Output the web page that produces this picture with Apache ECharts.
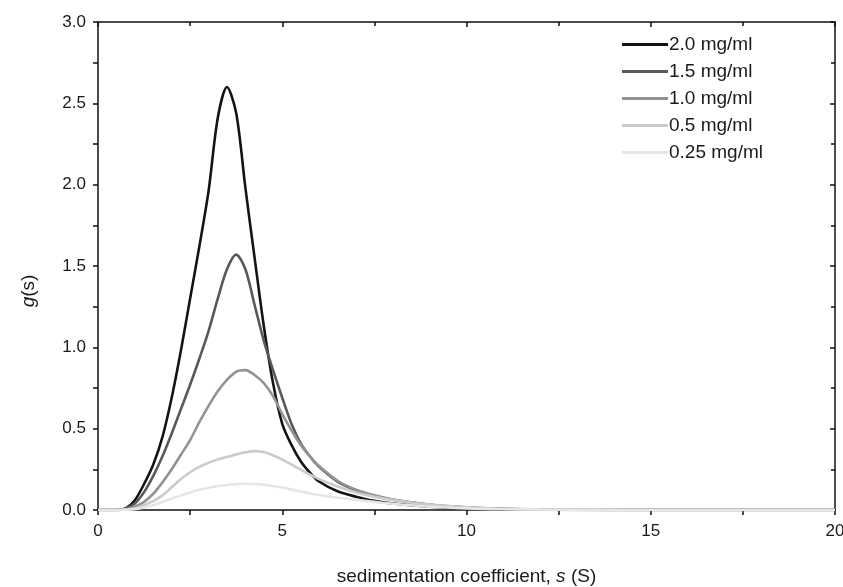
<!DOCTYPE html>
<html>
<head>
<meta charset="utf-8">
<script src="https://cdn.jsdelivr.net/npm/echarts@6/dist/echarts.min.js"></script>
<style>html,body{margin:0;padding:0;background:#fff;}#c{width:843px;height:587px;}</style>
</head>
<body>
<div id="c"></div>
<script>
const sValues = [0, 0.5, 0.75, 1.0, 1.25, 1.5, 1.75, 2.0, 2.25, 2.5, 2.75, 3.0, 3.25, 3.5, 3.75, 4.0, 4.25, 4.5, 4.75, 5.0, 5.25, 5.5, 5.75, 6.0, 6.5, 7.0, 7.5, 8.0, 9.0, 10, 11, 12, 14, 16, 18, 20];
const seriesNames = ['2.0 mg/ml', '1.5 mg/ml', '1.0 mg/ml', '0.5 mg/ml', '0.25 mg/ml'];
const g20  = [0, 0, 0.01, 0.06, 0.16, 0.28, 0.45, 0.69, 0.98, 1.30, 1.62, 1.96, 2.41, 2.60, 2.44, 1.98, 1.55, 1.13, 0.78, 0.53, 0.40, 0.30, 0.23, 0.175, 0.115, 0.082, 0.056, 0.040, 0.021, 0.010, 0.005, 0.002, 0, 0, 0, 0];
const g15  = [0, 0, 0.01, 0.04, 0.11, 0.21, 0.33, 0.47, 0.62, 0.77, 0.93, 1.10, 1.30, 1.48, 1.57, 1.48, 1.26, 1.04, 0.86, 0.69, 0.53, 0.41, 0.33, 0.265, 0.175, 0.122, 0.088, 0.063, 0.032, 0.015, 0.007, 0.003, 0.001, 0, 0, 0];
const g10  = [0, 0, 0.005, 0.02, 0.05, 0.10, 0.17, 0.25, 0.34, 0.43, 0.54, 0.64, 0.73, 0.80, 0.85, 0.86, 0.83, 0.78, 0.70, 0.59, 0.49, 0.40, 0.33, 0.27, 0.18, 0.125, 0.09, 0.065, 0.034, 0.017, 0.008, 0.004, 0.001, 0, 0, 0];
const g05  = [0, 0, 0.002, 0.01, 0.03, 0.055, 0.09, 0.14, 0.19, 0.232, 0.265, 0.29, 0.31, 0.326, 0.342, 0.355, 0.362, 0.356, 0.337, 0.31, 0.28, 0.248, 0.218, 0.19, 0.145, 0.108, 0.082, 0.062, 0.033, 0.017, 0.008, 0.004, 0.001, 0, 0, 0];
const g025 = [0, 0, 0.001, 0.005, 0.015, 0.03, 0.05, 0.07, 0.09, 0.108, 0.124, 0.137, 0.147, 0.154, 0.159, 0.161, 0.16, 0.156, 0.148, 0.138, 0.126, 0.114, 0.102, 0.092, 0.075, 0.062, 0.05, 0.038, 0.02, 0.01, 0.005, 0.003, 0.001, 0, 0, 0];
const xTicks = [0, 5, 10, 15, 20];
const yTicks = [0.0, 0.5, 1.0, 1.5, 2.0, 2.5, 3.0];

const allSeries = [g20, g15, g10, g05, g025];
const colors = ['#141414', '#595959', '#939393', '#cbcbcb', '#e6e6e6'];
const FONT = '"Liberation Sans", Arial, sans-serif';

const chart = echarts.init(document.getElementById('c'), null, {renderer: 'canvas'});
const axisBase = {
  axisLine: {show: true, onZero: false, lineStyle: {color: '#111', width: 1.5}},
  splitLine: {show: false}
};
const nameRich = {
  n: {fontFamily: FONT, fontSize: 19, color: '#1a1a1a'},
  i: {fontFamily: FONT, fontSize: 19, fontStyle: 'italic', color: '#1a1a1a'}
};
chart.setOption({
  animation: false,
  backgroundColor: '#fff',
  grid: {left: 98, right: 8, top: 22, bottom: 77, containLabel: false, outerBoundsMode: 'none'},
  legend: {
    orient: 'vertical',
    left: 622,
    top: 35,
    padding: 0,
    icon: 'rect',
    itemWidth: 46,
    itemHeight: 3,
    itemGap: 8,
    textStyle: {fontFamily: FONT, fontSize: 19, color: '#1a1a1a', lineHeight: 19, padding: [0, 0, 0, -4]},
    data: seriesNames
  },
  xAxis: [
    Object.assign({}, axisBase, {
      type: 'value', min: xTicks[0], max: xTicks[xTicks.length - 1], interval: 5, position: 'bottom',
      axisTick: {show: true, inside: false, length: 5, lineStyle: {color: '#111', width: 1.5}},
      minorTick: {show: true, splitNumber: 2, length: 5, lineStyle: {color: '#111', width: 1.5}},
      axisLabel: {fontFamily: FONT, fontSize: 17, color: '#1a1a1a', margin: 13},
      name: '{n|sedimentation coefficient, }{i|s}{n| (S)}',
      nameLocation: 'middle', nameGap: 57, nameMoveOverlap: false,
      nameTextStyle: {rich: nameRich}
    }),
    Object.assign({}, axisBase, {
      type: 'value', min: 0, max: 20, interval: 5, position: 'top',
      axisTick: {show: true, inside: true, length: 5, lineStyle: {color: '#111', width: 1.5}},
      minorTick: {show: true, splitNumber: 2, length: 4, lineStyle: {color: '#111', width: 1.5}},
      axisLabel: {show: false}
    })
  ],
  yAxis: [
    Object.assign({}, axisBase, {
      type: 'value', min: yTicks[0], max: yTicks[yTicks.length - 1], interval: 0.5, position: 'left',
      axisTick: {show: true, inside: false, length: 5, lineStyle: {color: '#111', width: 1.5}},
      minorTick: {show: true, splitNumber: 2, length: 5, lineStyle: {color: '#111', width: 1.5}},
      axisLabel: {fontFamily: FONT, fontSize: 17, color: '#1a1a1a', margin: 12, formatter: v => v.toFixed(1)},
      name: '{i|g}{n|(s)}',
      nameLocation: 'middle', nameGap: 60, nameRotate: 90, nameMoveOverlap: false,
      nameTextStyle: {rich: nameRich, padding: [0, 50, 0, 0]}
    }),
    Object.assign({}, axisBase, {
      type: 'value', min: 0, max: 3, interval: 0.5, position: 'right',
      axisTick: {show: true, inside: true, length: 5, lineStyle: {color: '#111', width: 1.5}},
      minorTick: {show: true, splitNumber: 2, length: 4, lineStyle: {color: '#111', width: 1.5}},
      axisLabel: {show: false}
    })
  ],
  series: allSeries.slice().reverse().map((arr, ri) => {
    const i = allSeries.length - 1 - ri;
    return {
      name: seriesNames[i],
      type: 'line',
      xAxisIndex: 0, yAxisIndex: 0,
      data: sValues.map((s, k) => [s, allSeries[i][k]]),
      showSymbol: false,
      smooth: 0.3,
      lineStyle: {color: colors[i], width: 2.6},
      itemStyle: {color: colors[i]},
      z: 2 + i
    };
  })
});
</script>
</body>
</html>
